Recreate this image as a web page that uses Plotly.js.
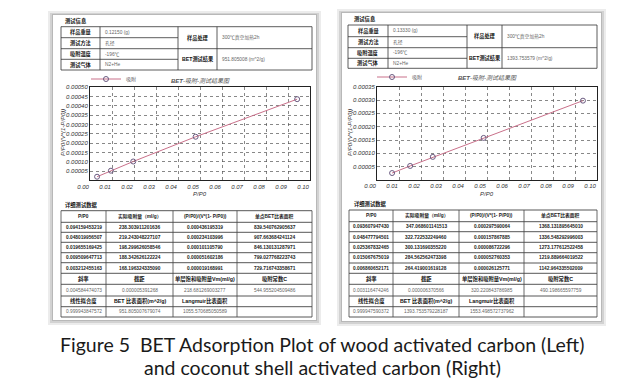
<!DOCTYPE html>
<html><head><meta charset="utf-8">
<script src="https://cdn.plot.ly/plotly-3.0.1.min.js"></script>
<style>html,body{margin:0;padding:0;background:#fff}#chart{width:640px;height:380px}</style>
</head><body><div id="chart"></div>
<script>
// ---------- data: wood activated carbon (left) ----------
const woodPP0 = [0.094159453219, 0.048019956507, 0.019655169425, 0.009509647713, 0.003212455163];
const woodAds = [238.303911201636, 219.243048227107, 198.299626058546, 188.342626122224, 168.196324335090];
const woodBET = [0.000436195319, 0.000234103996, 0.000101105790, 0.000051602186, 0.000019168991];
const woodSingle = [839.540762905637, 907.663684241124, 846.130131287971, 799.027768223743, 729.716743358671];
const woodFitA = ['0.004584474073', '0.000005391268', '218.681269003277', '544.955204509486'];
const woodFitB = ['0.999943847572', '951.805007679074', '1055.570685050589', ''];
const woodInfoVals = ['0.12150 (g)', '孔径', '-196℃', 'N2+He'];
const woodInfoRight = ['300℃真空加热2h', '951.805008 (m^2/g)'];
const woodYTicks = [0.00005, 0.0001, 0.00015, 0.0002, 0.00025, 0.0003, 0.00035, 0.0004, 0.00045, 0.0005];

// ---------- data: coconut shell activated carbon (right) ----------
const cocoPP0 = [0.093607947430, 0.048477794501, 0.025367832465, 0.015067675019, 0.006860652171];
const cocoAds = [347.068601141513, 322.722532249460, 300.131690355220, 284.562562473398, 264.419001619128];
const cocoBET = [0.000297590064, 0.000157867885, 0.000086722296, 0.000052760353, 0.000026125771];
const cocoSingle = [1368.131895645010, 1336.548292996003, 1273.177612522458, 1219.889664019522, 1142.964335502009];
const cocoFitA = ['0.003116474246', '0.000006370566', '320.220843786985', '490.198665597759'];
const cocoFitB = ['0.999947590372', '1393.753579228187', '1553.498572737962', ''];
const cocoInfoVals = ['0.13330 (g)', '孔径', '-196℃', 'N2+He'];
const cocoInfoRight = ['300℃真空加热2h', '1393.753579 (m^2/g)'];
const cocoYTicks = [0.00005, 0.0001, 0.00015, 0.0002, 0.00025, 0.0003, 0.00035];

// ---------- shared labels ----------
const xTicks = [0, 0.01, 0.02, 0.03, 0.04, 0.05, 0.06, 0.07, 0.08, 0.09, 0.1];
const infoLabels = ['样品重量', '测试方法', '吸附温度', '测试气体'];
const infoLabelsRight = ['样品处理', 'BET测试结果'];
const headRow0 = ['P/P0', '实际吸附量（ml/g）', '(P/P0)/(V*(1- P/P0))', '单点BET比表面积'];
const headRow6 = ['斜率', '截距', '单层饱和吸附量Vm(ml/g)', '吸附常数C'];
const headRow8 = ['线性拟合度', 'BET 比表面积(m^2/g)', 'Langmuir比表面积', ''];
const captionLines = ['Figure 5  BET Adsorption Plot of wood activated carbon (Left)',
                      'and coconut shell activated carbon (Right)'];

const W = 640, H = 380;
const px = x => x / W, py = y => 1 - y / H;
const FONT = 'Liberation Sans, Noto Sans CJK SC, sans-serif';
const shapes = [], annotations = [];

function rect(x0, y0, x1, y1, fill) {
  shapes.push({type: 'rect', xref: 'paper', yref: 'paper', layer: 'below',
    x0: px(x0), x1: px(x1), y0: py(y1), y1: py(y0), fillcolor: fill, line: {width: 0}});
}
function line(x0, y0, x1, y1, color, w) {
  shapes.push({type: 'line', xref: 'paper', yref: 'paper', layer: 'below',
    x0: px(x0), x1: px(x1), y0: py(y0), y1: py(y1), line: {color: color || '#333', width: w || 0.8}});
}
function text(x, y, t, opt) {
  opt = opt || {};
  annotations.push({xref: 'paper', yref: 'paper', x: px(x), y: py(y), text: opt.bold ? '<b>' + t + '</b>' : t,
    showarrow: false, xanchor: opt.anchor || 'center', yanchor: 'middle', textangle: opt.angle || 0,
    font: {family: opt.family || FONT, size: opt.size || 5, color: opt.color || '#222', style: opt.italic ? 'italic' : 'normal'}});
}

function page(cfg, d) {
  const [a, b, c, e] = cfg.page;
  rect(a - 5, b - 4, c + 5, e + 5, '#ececec');
  rect(a - 3, b - 2, c + 3, e + 3, '#d2d2d2');
  rect(a - 1, b - 1, c + 1, e + 1, '#b8b8b8');
  rect(a, b, c, e, '#ffffff');

  // info table
  text(cfg.infoTitle[0], cfg.infoTitle[1], '测试信息', {bold: true, anchor: 'left', size: 5.3, color: '#111'});
  const ic = cfg.info.cols, ir = cfg.info.rows;
  ic.forEach(x => line(x, ir[0], x, ir[4]));
  ir.forEach((y, i) => line(ic[0], y, (i === 0 || i === 4) ? ic[4] : ic[2], y));
  line(ic[2], ir[2], ic[4], ir[2]);
  for (let i = 0; i < 4; i++) {
    const yc = (ir[i] + ir[i + 1]) / 2;
    text((ic[0] + ic[1]) / 2, yc, infoLabels[i], {bold: true, size: 5.2, color: '#111'});
    text(ic[1] + 3, yc, d.info[i], {anchor: 'left', size: 4.8, color: '#666'});
  }
  for (let j = 0; j < 2; j++) {
    const yc = (ir[2 * j] + ir[2 * j + 2]) / 2;
    text((ic[2] + ic[3]) / 2, yc, infoLabelsRight[j], {bold: true, size: 5.2, color: '#111'});
    text(ic[3] + 3, yc, d.infoRight[j], {anchor: 'left', size: 4.8, color: '#666'});
  }

  // detail table
  text(cfg.detailTitle[0], cfg.detailTitle[1], '详细测试数据', {bold: true, anchor: 'left', size: 5.3, color: '#111'});
  const tc = cfg.table.cols, tr = cfg.table.rows;
  tc.forEach(x => line(x, tr[0], x, tr[tr.length - 1], '#444', 0.8));
  tr.forEach(y => line(tc[0], y, tc[4], y, '#444', 0.9));
  const rowsTxt = [];
  rowsTxt.push({cells: headRow0, bold: true, color: '#222'});
  for (let i = 0; i < d.pp0.length; i++) {
    rowsTxt.push({cells: [d.pp0[i].toFixed(12), d.ads[i].toFixed(12), d.bet[i].toFixed(12), d.single[i].toFixed(12)],
      bold: true, color: '#222'});
  }
  rowsTxt.push({cells: headRow6, bold: true, color: '#111', size: 5.3});
  rowsTxt.push({cells: d.fitA, bold: false, color: '#666'});
  rowsTxt.push({cells: headRow8, bold: true, color: '#111', size: 5.3});
  rowsTxt.push({cells: d.fitB, bold: false, color: '#666'});
  rowsTxt.forEach((r, i) => {
    const yc = (tr[i] + tr[i + 1]) / 2;
    r.cells.forEach((t, j) => {
      if (t) text((tc[j] + tc[j + 1]) / 2, yc, t, {bold: r.bold, color: r.color, size: r.size || 4.8});
    });
  });

  // chart titles
  const cx = (cfg.plot.x[0] + cfg.plot.x[1]) / 2;
  text(cx, cfg.titleY, '<b>BET</b>-吸附-测试结果图', {italic: true, size: 6, color: '#555'});
  text(cx, cfg.plot.y[1] + 14, 'P/P0', {italic: true, size: 6, color: '#333'});
  text(cfg.ytitle[0], cfg.ytitle[1], 'P/P0/(V*(1-P/P0))', {italic: true, size: 6, color: '#333', angle: -90});
}

const leftCfg = {page: [53, 15, 316, 320], infoTitle: [63, 21],
  info: {cols: [61, 100, 178, 217, 312], rows: [26.7, 37.7, 48.7, 59.3, 70]},
  detailTitle: [63, 205], table: {cols: [61, 106, 173, 237, 312], rows: [210.7, 222.3, 232.3, 242.3, 252.7, 262.7, 273.3, 284.3, 296, 306.7, 317]},
  plot: {x: [90, 310], y: [87.3, 180.3]}, titleY: 80, ytitle: [63, 133]};
const rightCfg = {page: [342, 13, 601, 321], infoTitle: [352, 19.5],
  info: {cols: [348, 388, 467, 502, 597], rows: [25, 36.7, 47.7, 58.3, 68.3]},
  detailTitle: [352, 203.5], table: {cols: [349, 393, 459, 524, 597], rows: [210, 221.7, 231.7, 242.3, 252.7, 263, 273.3, 284.3, 296, 306.7, 317]},
  plot: {x: [377, 597], y: [86.7, 180]}, titleY: 78, ytitle: [350, 133]};

page(leftCfg, {info: woodInfoVals, infoRight: woodInfoRight, pp0: woodPP0, ads: woodAds, bet: woodBET, single: woodSingle, fitA: woodFitA, fitB: woodFitB});
page(rightCfg, {info: cocoInfoVals, infoRight: cocoInfoRight, pp0: cocoPP0, ads: cocoAds, bet: cocoBET, single: cocoSingle, fitA: cocoFitA, fitB: cocoFitB});

// caption
text(322, 344, captionLines[0], {family: 'Lato, sans-serif', size: 19.5, color: '#1a1a1a'});
text(322, 367, captionLines[1], {family: 'Lato, sans-serif', size: 19.5, color: '#1a1a1a'});

function xAxis(cfg, anchor) {
  return {domain: [px(cfg.plot.x[0]), px(cfg.plot.x[1])], anchor: anchor, range: [0, 0.1],
    tickvals: xTicks, tickformat: '.2f', ticks: '', ticklabelshift: -7,
    tickfont: {family: FONT, size: 6, color: '#333', style: 'italic'},
    showgrid: true, gridcolor: '#555', griddash: 'dot', gridwidth: 0.7,
    zeroline: false, showline: true, mirror: true, linecolor: '#222', linewidth: 1};
}
function yAxis(cfg, anchor, top, ticks) {
  return {domain: [py(cfg.plot.y[1]), py(cfg.plot.y[0])], anchor: anchor, range: [0, top],
    tickvals: ticks, tickformat: '.5f', ticks: '',
    tickfont: {family: FONT, size: 6, color: '#333', style: 'italic'},
    showgrid: true, gridcolor: '#555', griddash: 'dot', gridwidth: 0.7,
    zeroline: false, showline: true, mirror: true, linecolor: '#222', linewidth: 1};
}

const traceStyle = {type: 'scatter', mode: 'lines+markers', name: '吸附',
  line: {color: '#c9708a', width: 1},
  marker: {symbol: 'circle-open', size: 5, color: '#6a5a80', line: {width: 1}}};

const data = [
  Object.assign({}, traceStyle, {x: woodPP0, y: woodBET, xaxis: 'x', yaxis: 'y', legend: 'legend'}),
  Object.assign({}, traceStyle, {x: cocoPP0, y: cocoBET, xaxis: 'x2', yaxis: 'y2', legend: 'legend2'})
];

const legendStyle = {orientation: 'h', xanchor: 'left', yanchor: 'middle', bgcolor: 'rgba(0,0,0,0)',
  font: {family: FONT, size: 5, color: '#666'}, itemwidth: 30};

const layout = {
  width: W, height: H, autosize: false,
  margin: {l: 0, r: 0, t: 0, b: 0, pad: 0},
  paper_bgcolor: '#ffffff', plot_bgcolor: 'rgba(0,0,0,0)',
  showlegend: true,
  legend: Object.assign({}, legendStyle, {x: px(86), y: py(leftCfg.titleY - 1)}),
  legend2: Object.assign({}, legendStyle, {x: px(372), y: py(rightCfg.titleY - 1)}),
  xaxis: xAxis(leftCfg, 'y'), yaxis: yAxis(leftCfg, 'x', 0.0005, woodYTicks),
  xaxis2: xAxis(rightCfg, 'y2'), yaxis2: yAxis(rightCfg, 'x2', 0.00035, cocoYTicks),
  shapes: shapes, annotations: annotations
};

Plotly.newPlot('chart', data, layout, {staticPlot: true, displayModeBar: false});
</script>
</body></html>
